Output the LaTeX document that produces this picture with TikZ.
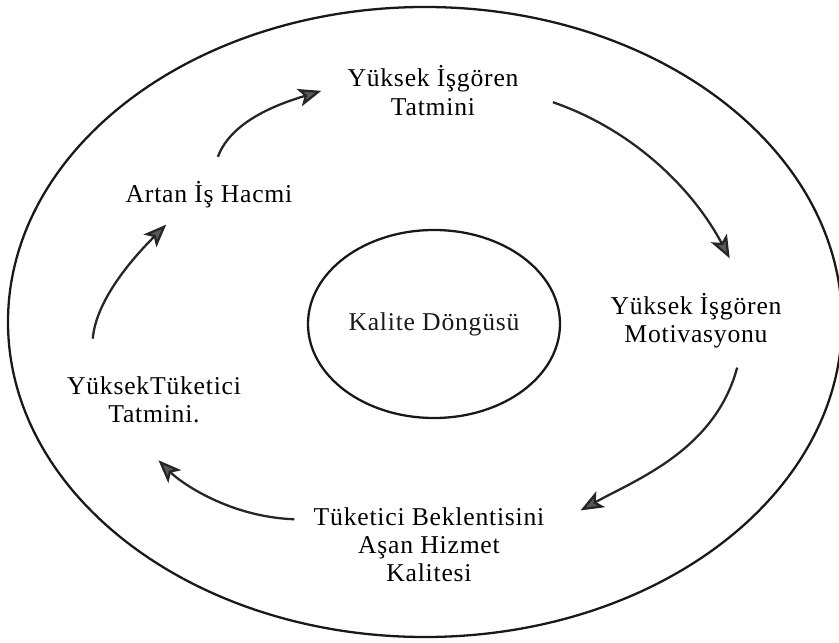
\documentclass[tikz,border=0pt]{standalone}
\usepackage{fontspec}
\setmainfont{Liberation Serif}[LetterSpace=3]
\usetikzlibrary{arrows.meta,shapes.geometric}

\begin{document}
\begin{tikzpicture}[
  lbl/.style={align=center,inner sep=0pt,font=\fontsize{14.6}{16}\selectfont},
  cyc/.style={line width=1.3pt,black!85,-{Stealth[length=4.6mm,width=3.6mm,inset=1.1mm,fill=black!65]}}]
 \useasboundingbox (0,0) rectangle (16.78,12.84);
 \draw[line width=1.3pt,black!90] (8.50,6.40) ellipse [x radius=8.34cm, y radius=6.30cm];
 \node[lbl,draw,ellipse,line width=1.3pt,black!90,minimum width=5.04cm,minimum height=3.76cm] (kalite) at (8.68,6.36) {Kalite Döngüsü};
 \node[lbl] (isgtat) at (8.66,11.03) {Yüksek İşgören\\Tatmini};
 \node[lbl] (isgmot) at (13.92,6.42) {Yüksek İşgören\\Motivasyonu};
 \node[lbl] (asan) at (8.58,1.95) {Tüketici Beklentisini\\Aşan Hizmet\\Kalitesi};
 \node[lbl] (tuktat) at (3.08,4.84) {YüksekTüketici\\Tatmini.};
 \node[lbl] (artan) at (4.18,8.94) {Artan İş Hacmi};
 % the cycle
 \draw[cyc,shorten <=5.2mm,shorten >=5.4mm] (artan.north) to[out=70,in=197] (isgtat.175);
 \draw[cyc,shorten <=7.2mm,shorten >=7.9mm] (isgtat.east) to[out=-19,in=118] (isgmot.28);
 \draw[cyc,shorten <=3.9mm,shorten >=8.2mm] (isgmot.-31) to[out=255,in=29] (asan.7);
 \draw[cyc,shorten <=3.8mm,shorten >=10.4mm] (asan.168) to[out=178,in=-45] (tuktat.216);
 \draw[cyc,shorten <=7.6mm,shorten >=4.5mm] (tuktat.160) to[out=85,in=225] (artan.207);
\end{tikzpicture}
\end{document}
